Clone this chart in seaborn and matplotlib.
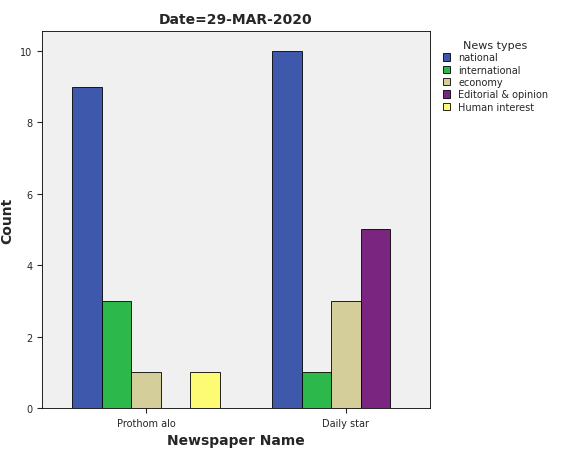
import matplotlib
matplotlib.use("Agg")
import matplotlib.pyplot as plt
import seaborn as sns
import pandas as pd

papers = ["Prothom alo", "Daily star"]
types = ["national", "international", "economy", "Editorial & opinion", "Human interest"]
prothom = [9, 3, 1, 0, 1]
daily = [10, 1, 3, 5, 0]
colors = ["#3e58ac", "#2db84b", "#d4cf9a", "#7a2680", "#fdfb74"]

rows = []
for p, vals in zip(papers, [prothom, daily]):
    for t, v in zip(types, vals):
        rows.append({"paper": p, "type": t, "count": v})
df = pd.DataFrame(rows)

sns.set_style("ticks")
plt.rcParams['font.family'] = ['DejaVu Sans']
fig = plt.figure(figsize=(5.8, 4.64), dpi=100)
ax = fig.add_axes([42/580, 1-409/464, 388/580, 377/464])
ax.set_facecolor("#f0f0f0")
sns.barplot(data=df, x="paper", y="count", hue="type", hue_order=types, order=papers,
            palette=colors, width=0.74, edgecolor="black", linewidth=0.6, ax=ax, saturation=1)
ax.set_xlim(-0.52, 1.42)
ax.set_ylim(0, 10.56)
ax.set_yticks(range(0, 11, 2))
ax.tick_params(labelsize=7)
ax.set_xlabel("Newspaper Name", fontsize=10, fontweight="bold")
ax.set_ylabel("Count", fontsize=10, fontweight="bold")
ax.set_title("Date=29-MAR-2020", fontsize=10, fontweight="bold")
for s in ax.spines.values():
    s.set_color("black"); s.set_linewidth(0.6)
ax.legend(title="News types", loc="upper left", bbox_to_anchor=(1.01, 1.0), frameon=False,
          fontsize=7, title_fontsize=8, handlelength=0.8, handleheight=0.8, labelspacing=0.25)
fig.savefig("out.png", dpi=100)
